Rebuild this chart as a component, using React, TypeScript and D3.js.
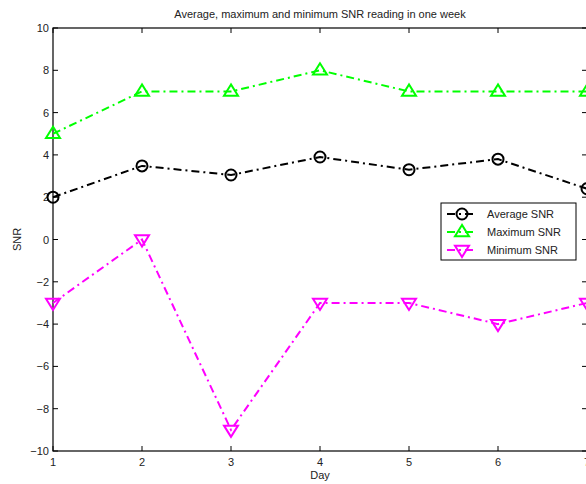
import React, { useRef, useEffect } from "react";
import * as d3 from "d3";

const days = [1, 2, 3, 4, 5, 6, 7];
const averageSNR = [2.0, 3.48, 3.05, 3.9, 3.3, 3.8, 2.4];
const maximumSNR = [5, 7, 7, 8, 7, 7, 7];
const minimumSNR = [-3, 0, -9, -3, -3, -4, -3];
const yTicks = [-10, -8, -6, -4, -2, 0, 2, 4, 6, 8, 10];

const series = [
  { name: "Average SNR", values: averageSNR, color: "#000000", marker: "circle" },
  { name: "Maximum SNR", values: maximumSNR, color: "#00ff00", marker: "up" },
  { name: "Minimum SNR", values: minimumSNR, color: "#ff00ff", marker: "down" },
];

const App = () => {
  const svgRef = useRef<SVGSVGElement>(null);

  useEffect(() => {
    const svg = d3.select(svgRef.current);
    svg.selectAll("*").remove();

    const left = 53, right = 587, top = 28, bottom = 451;
    const font = "Liberation Sans, Arial, Helvetica, sans-serif";

    const x = d3.scaleLinear().domain([1, 7]).range([left, right]);
    const y = d3.scaleLinear().domain([-10, 10]).range([bottom, top]);

    const g = svg.append("g").attr("font-family", font);

    // ticks (inward, all four sides)
    const tl = 5;
    days.forEach((d) => {
      g.append("line").attr("x1", x(d)).attr("x2", x(d)).attr("y1", bottom).attr("y2", bottom - tl).attr("stroke", "#000");
      g.append("line").attr("x1", x(d)).attr("x2", x(d)).attr("y1", top).attr("y2", top + tl).attr("stroke", "#000");
      g.append("text").attr("x", x(d)).attr("y", bottom + 15).attr("text-anchor", "middle")
        .attr("font-size", 11).attr("fill", "#222").text(d);
    });
    yTicks.forEach((v) => {
      g.append("line").attr("x1", left).attr("x2", left + tl).attr("y1", y(v)).attr("y2", y(v)).attr("stroke", "#000");
      g.append("line").attr("x1", right).attr("x2", right - tl).attr("y1", y(v)).attr("y2", y(v)).attr("stroke", "#000");
      g.append("text").attr("x", left - 4).attr("y", y(v) + 4).attr("text-anchor", "end")
        .attr("font-size", 11).attr("fill", "#222").text(v < 0 ? "\u2212" + Math.abs(v) : v);
    });

    // axes box
    g.append("rect").attr("x", left).attr("y", top).attr("width", right - left).attr("height", bottom - top)
      .attr("fill", "none").attr("stroke", "#000").attr("stroke-width", 1.2);

    // labels
    g.append("text").attr("x", (left + right) / 2).attr("y", 18).attr("text-anchor", "middle")
      .attr("font-size", 11).attr("fill", "#222").text("Average, maximum and minimum SNR reading in one week");
    g.append("text").attr("x", (left + right) / 2).attr("y", 479).attr("text-anchor", "middle")
      .attr("font-size", 11).attr("fill", "#222").text("Day");
    g.append("text").attr("transform", `translate(21,${(top + bottom) / 2}) rotate(-90)`).attr("text-anchor", "middle")
      .attr("font-size", 11).attr("fill", "#222").text("SNR");

    const line = d3.line<number>().x((_, i) => x(days[i])).y((v) => y(v));
    const dash = "8,4,2,4";

    const drawMarker = (sel: any, cx: number, cy: number, type: string, color: string) => {
      if (type === "circle") {
        sel.append("circle").attr("cx", cx).attr("cy", cy).attr("r", 5.5)
          .attr("fill", "none").attr("stroke", color).attr("stroke-width", 2);
      } else {
        const s = 7;
        const pts = type === "up"
          ? [[cx, cy - s], [cx - s, cy + s * 0.6], [cx + s, cy + s * 0.6]]
          : [[cx, cy + s], [cx - s, cy - s * 0.6], [cx + s, cy - s * 0.6]];
        sel.append("polygon").attr("points", pts.map((p) => p.join(",")).join(" "))
          .attr("fill", "none").attr("stroke", color).attr("stroke-width", 2);
      }
    };

    series.forEach((s) => {
      g.append("path").datum(s.values).attr("d", line).attr("fill", "none")
        .attr("stroke", s.color).attr("stroke-width", 2).attr("stroke-dasharray", dash);
      s.values.forEach((v, i) => drawMarker(g, x(days[i]), y(v), s.marker, s.color));
    });

    // legend
    const lx = 441, ly = 203, lw = 135, lh = 57;
    const lg = g.append("g");
    lg.append("rect").attr("x", lx).attr("y", ly).attr("width", lw).attr("height", lh)
      .attr("fill", "#fff").attr("stroke", "#000").attr("stroke-width", 1);
    series.forEach((s, i) => {
      const cy = ly + 11 + i * 18;
      lg.append("line").attr("x1", lx + 6).attr("x2", lx + 36).attr("y1", cy).attr("y2", cy)
        .attr("stroke", s.color).attr("stroke-width", 2).attr("stroke-dasharray", dash);
      drawMarker(lg, lx + 21, cy, s.marker, s.color);
      lg.append("text").attr("x", lx + 46).attr("y", cy + 4).attr("font-size", 11).attr("fill", "#222").text(s.name);
    });
  }, []);

  return (
    <svg ref={svgRef} width={586} height={484}
      style={{ position: "absolute", left: 0, top: 0, background: "#fff" }}></svg>
  );
};

export default App;
